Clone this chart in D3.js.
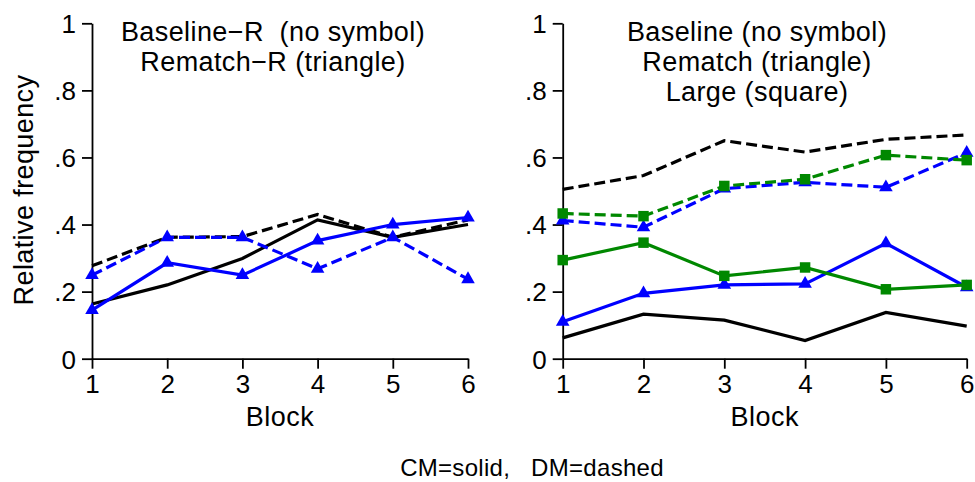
<!DOCTYPE html>
<html><head><meta charset="utf-8">
<script src="https://cdn.jsdelivr.net/npm/d3@7"></script>
<style>body{margin:0;background:#fff}svg{display:block}text{font-family:"Liberation Sans",Arial,sans-serif;fill:#000;white-space:pre}</style>
</head><body><svg id="c" width="975" height="482"></svg>
<script>
const blocks = [1, 2, 3, 4, 5, 6];
const yTickValues = [0, 0.2, 0.4, 0.6, 0.8, 1];
const yTickLabels = ["0", ".2", ".4", ".6", ".8", "1"];

// Left panel
const baselineR_CM = [0.163, 0.220, 0.299, 0.414, 0.362, 0.400];
const baselineR_DM = [0.277, 0.362, 0.364, 0.430, 0.362, 0.414];
const rematchR_CM  = [0.145, 0.286, 0.249, 0.352, 0.400, 0.421];
const rematchR_DM  = [0.249, 0.362, 0.362, 0.268, 0.362, 0.237];

// Right panel
const baseline_CM = [0.062, 0.133, 0.115, 0.054, 0.138, 0.097];
const baseline_DM = [0.505, 0.546, 0.650, 0.616, 0.654, 0.667];
const rematch_CM  = [0.110, 0.195, 0.220, 0.223, 0.344, 0.213];
const rematch_DM  = [0.412, 0.392, 0.507, 0.526, 0.511, 0.614];
const large_CM    = [0.294, 0.346, 0.247, 0.272, 0.207, 0.220];
const large_DM    = [0.433, 0.425, 0.515, 0.535, 0.607, 0.592];

const leftTitle = ["Baseline\u2212R  (no symbol)", "Rematch\u2212R (triangle)"];
const rightTitle = ["Baseline (no symbol)", "Rematch (triangle)", "Large (square)"];

const BLACK = "#000", BLUE = "#0000ff", GREEN = "#008800";
const svg = d3.select("#c");
const y = d3.scaleLinear().domain([0, 1]).range([358.7, 23.3]);

function panel(x0, x1, titleX, title, series, showYLabel) {
  const x = d3.scaleLinear().domain([1, 6]).range([x0, x1]);
  const g = svg.append("g");
  const xa = g.append("g").attr("transform", `translate(0,${y(0)})`)
    .call(d3.axisBottom(x).tickValues(blocks).tickFormat(d3.format("d")).tickSize(10).tickSizeOuter(0).tickPadding(6));
  const ya = g.append("g").attr("transform", `translate(${x0},0)`)
    .call(d3.axisLeft(y).tickValues(yTickValues).tickFormat((d, i) => yTickLabels[i]).tickSize(10).tickSizeOuter(0).tickPadding(6));
  [xa, ya].forEach(a => {
    a.selectAll("path.domain").attr("stroke", "#000").attr("stroke-width", 1.8);
    a.selectAll(".tick line").attr("stroke", "#000").attr("stroke-width", 1.8);
    a.selectAll(".tick text").attr("font-size", 26).attr("font-family", '"Liberation Sans",Arial,sans-serif').attr("fill", "#000");
  });
  ya.selectAll(".tick text").attr("dy", "0.36em");
  xa.selectAll(".tick text").attr("dy", "0.7em");

  g.append("text").attr("x", (x0 + x1) / 2).attr("y", 426).attr("text-anchor", "middle")
    .attr("font-size", 27).attr("letter-spacing", 0.5).text("Block");
  title.forEach((t, i) => g.append("text").attr("x", titleX).attr("y", 41 + i * 30)
    .attr("text-anchor", "middle").attr("font-size", 27).attr("letter-spacing", 0.4).text(t));
  if (showYLabel) {
    g.append("text").attr("transform", `translate(33,190) rotate(-90)`).attr("text-anchor", "middle")
      .attr("font-size", 27).attr("letter-spacing", 0.4).text("Relative frequency");
  }
  const line = d3.line().x((d, i) => x(blocks[i])).y(d => y(d));
  series.forEach(s => {
    g.append("path").datum(s.values).attr("d", line).attr("fill", "none")
      .attr("stroke", s.color).attr("stroke-width", 3.2)
      .attr("stroke-dasharray", s.dashed ? "11,5" : null);
    if (s.symbol) {
      const sym = d3.symbol().type(s.symbol === "tri" ? d3.symbolTriangle : d3.symbolSquare)
        .size(s.symbol === "tri" ? 80 : 110);
      g.append("g").selectAll("path").data(s.values).join("path")
        .attr("transform", (d, i) => `translate(${x(blocks[i])},${y(d)})`)
        .attr("d", sym).attr("fill", s.color);
    }
  });
}

panel(92, 468, 273, leftTitle, [
  { values: baselineR_DM, color: BLACK, dashed: true },
  { values: baselineR_CM, color: BLACK, dashed: false },
  { values: rematchR_DM, color: BLUE, dashed: true, symbol: "tri" },
  { values: rematchR_CM, color: BLUE, dashed: false, symbol: "tri" }
], true);

panel(562.7, 966.7, 757, rightTitle, [
  { values: baseline_DM, color: BLACK, dashed: true },
  { values: baseline_CM, color: BLACK, dashed: false },
  { values: rematch_DM, color: BLUE, dashed: true, symbol: "tri" },
  { values: rematch_CM, color: BLUE, dashed: false, symbol: "tri" },
  { values: large_DM, color: GREEN, dashed: true, symbol: "sq" },
  { values: large_CM, color: GREEN, dashed: false, symbol: "sq" }
], false);

svg.append("text").attr("x", 532).attr("y", 476).attr("text-anchor", "middle")
  .attr("font-size", 24).attr("letter-spacing", 0.3)
  .text("CM=solid,   DM=dashed");
</script></body></html>
